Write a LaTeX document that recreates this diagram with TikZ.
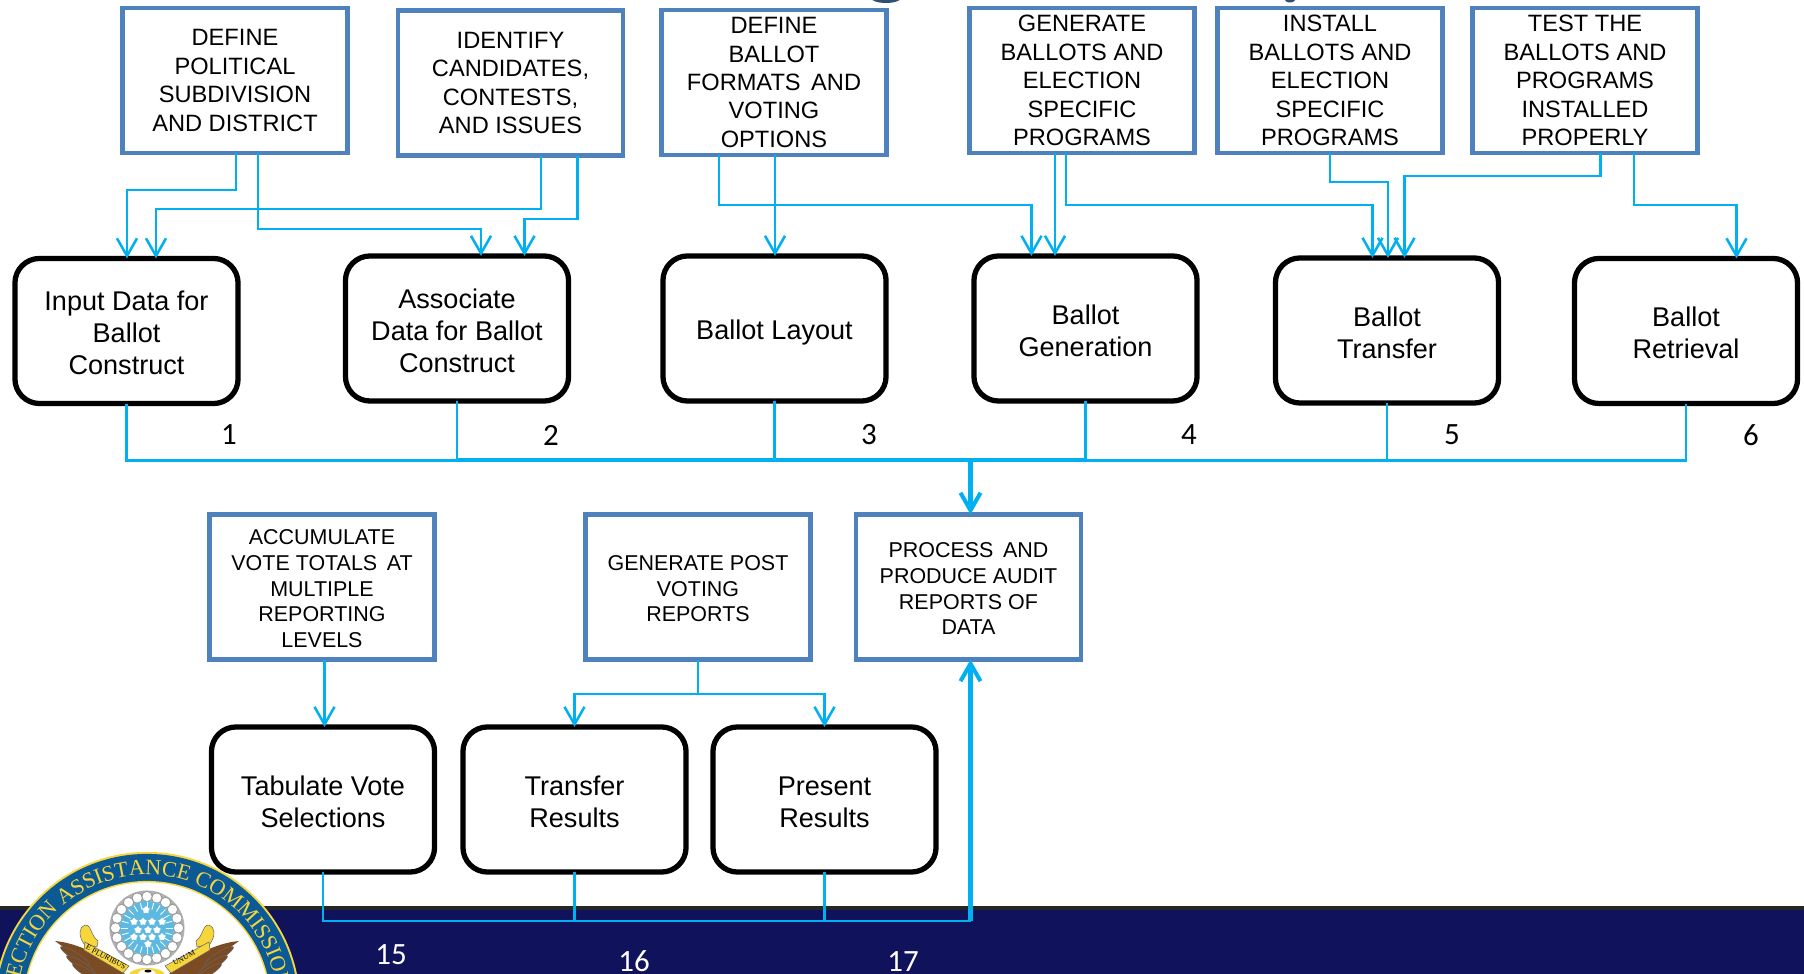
\documentclass[tikz,border=0pt]{standalone}
\usepackage{fontspec}
\usetikzlibrary{arrows.meta, decorations.text, shapes.geometric}
\setmainfont{Liberation Sans}
\newfontfamily\numfont{Carlito}
\newfontfamily\sealfont{Liberation Serif}
\definecolor{boxblue}{HTML}{4F81BD}
\definecolor{linkblue}{HTML}{00B0F0}
\definecolor{bandnavy}{HTML}{10125C}
\definecolor{sealblue}{HTML}{0B5A96}
\definecolor{sealgold}{HTML}{F7D63C}
\definecolor{sealbrown}{HTML}{7B4B24}
\definecolor{sealsky}{HTML}{5DB9E0}
\tikzset{
  taskbox/.style={draw=boxblue, line width=1.35pt, fill=white, minimum width=2.25cm, minimum height=1.45cm, inner sep=0pt, outer sep=0pt, align=center},
  hightask/.style={taskbox, font=\fontsize{6.72}{8.1}\selectfont},
  lowtask/.style={taskbox, font=\fontsize{6.1}{7.3}\selectfont},
  procbox/.style={draw=black, line width=1.5pt, fill=white, rounded corners=7pt, minimum width=2.23cm, minimum height=1.45cm, inner sep=0pt, outer sep=0pt, align=center, font=\fontsize{7.7}{9.1}\selectfont},
  numlabel/.style={font=\fontsize{8.8}{10}\numfont},
  feed/.style={draw=linkblue, line width=0.72pt, -{Straight Barb[length=5pt,width=5.7pt]}},
  busline/.style={draw=linkblue, line width=0.6pt},
  trunk/.style={draw=linkblue, line width=1.15pt, -{Straight Barb[length=5pt,width=5.7pt]}},
  pearl/.style={fill=white, draw=black!40, line width=0.25pt},
  sealstar/.style={star, star points=5, fill=white, inner sep=0pt, minimum size=0.08cm}
}

\begin{document}
\begin{tikzpicture}[x=0.01cm, y=-0.01cm]
  \useasboundingbox (0,0) rectangle (1804,974);
  \begin{scope}
    \clip (0,0) rectangle (1804,974);
    \fill[boxblue!60!black] (886,-3) ellipse [x radius=0.16cm, y radius=0.06cm];
    \fill[boxblue!60!black] (1290,-2) ellipse [x radius=0.06cm, y radius=0.045cm];
    \fill[black!85] (0,906) rectangle (1804,910);
    \fill[bandnavy] (0,910) rectangle (1804,974);
    \fill[sealgold] (147,1005) circle [radius=1.53cm];
    \fill[sealblue] (147,1005) circle [radius=1.51cm];
    \fill[sealgold] (147,1005) circle [radius=1.24cm];
    \fill[white] (147,1005) circle [radius=1.225cm];
    \begin{scope}[shift={(147,1005)}, y=0.01cm]
      \path[decorate, decoration={text along path, text align=center,
        text={|\fontsize{6.26}{7}\sealfont\color{sealgold}|ELECTION ASSISTANCE COMMISSION}}]
        (182:130) arc (182:5:130);
    \end{scope}
    \fill[black!30] (147,928) circle [radius=0.375cm];
    \foreach \a in {0,18,...,342}{
      \fill[pearl] (147,928) ++(\a:0.315cm) circle [radius=0.052cm];
    }
    \fill[sealsky] (147,928) circle [radius=0.27cm];
    \foreach \a in {0,15,...,345}{
      \draw[white, line width=0.25pt] (147,928) ++(\a:0.19cm) -- ++(\a:0.07cm);
    }
    \foreach \n/\x/\y in {1/146/910, 2/134/921.7, 3/143/921.7, 4/152/921.7, 5/162/921.7, 6/138/930, 7/148/930, 8/157/930, 9/134/937, 10/143/937, 11/152/937, 12/162/937, 13/148/944}{
      \node[sealstar] (s\n) at (\x,\y) {};
    }
    \foreach \s in {1,-1}{
      \begin{scope}[shift={(147,0)}, xscale=\s]
        \fill[sealbrown] (-92,941) .. controls (-70,943) and (-45,955) .. (-22,974) -- (-52,974) .. controls (-60,962) and (-80,950) .. cycle;
        \fill[sealbrown, draw=black!60, line width=0.15pt] (-72,956) circle [x radius=0.17cm, y radius=0.035cm, rotate=-32];
        \fill[sealbrown, draw=black!60, line width=0.15pt] (-66,965) circle [x radius=0.17cm, y radius=0.035cm, rotate=-32];
        \fill[sealbrown, draw=black!60, line width=0.15pt] (-60,973) circle [x radius=0.17cm, y radius=0.035cm, rotate=-32];
        \fill[sealgold, draw=black!60, line width=0.15pt] (-62,925) .. controls (-55,925) and (-57,935) .. (-49,941) -- (-50,947) -- (-63,944) .. controls (-69,935) and (-68,927) .. cycle;
        \fill[sealgold, draw=black!60, line width=0.15pt] (-62,942) -- (-18,966) -- (-24,973) -- (-63,950) -- cycle;
      \end{scope}
    }
    \node[rotate=-28, font=\fontsize{2.2}{2.4}\sealfont] (pl) at (106,957) {E PLURIBUS};
    \node[rotate=28, font=\fontsize{2.2}{2.4}\sealfont] (un) at (184,958) {UNUM};
    \fill[sealgold] (147,975) circle [x radius=0.18cm, y radius=0.07cm];
    \fill[white] (147,975) circle [x radius=0.09cm, y radius=0.06cm];
    \fill[black] (148,971) circle [x radius=0.035cm, y radius=0.015cm];
  \end{scope}

  \foreach \n/\x/\y/\txt in {
    1/235/80.5/{DEFINE\\POLITICAL\\SUBDIVISION\\AND DISTRICT},
    2/510.5/83/{IDENTIFY\\CANDIDATES,\\CONTESTS,\\AND ISSUES},
    3/774/82.5/{DEFINE\\BALLOT\\FORMATS\, AND\\VOTING\\OPTIONS},
    4/1082/80.5/{GENERATE\\BALLOTS AND\\ELECTION\\SPECIFIC\\PROGRAMS},
    5/1330/80.5/{INSTALL\\BALLOTS AND\\ELECTION\\SPECIFIC\\PROGRAMS},
    6/1585/80.5/{TEST THE\\BALLOTS AND\\PROGRAMS\\INSTALLED\\PROPERLY}}{
    \node[hightask] (t\n) at (\x,\y) {\txt};
  }
  \foreach \n/\x/\y/\txt in {
    1/126.5/331/{Input Data for\\Ballot\\Construct},
    2/457/328.5/{Associate\\Data for Ballot\\Construct},
    3/774.5/328.5/{\rule{0pt}{8pt}Ballot Layout},
    4/1085.5/328.5/{Ballot\\Generation},
    5/1387/330.5/{Ballot\\Transfer},
    6/1686/331/{Ballot\\Retrieval}}{
    \node[procbox] (c\n) at (\x,\y) {\rule{0pt}{6.8pt}\txt};
  }
  \foreach \n/\x/\txt in {
    1/322/{ACCUMULATE\\VOTE TOTALS\, AT\\MULTIPLE\\REPORTING\\LEVELS},
    2/698/{GENERATE POST\\VOTING\\REPORTS},
    3/968.5/{PROCESS\, AND\\PRODUCE AUDIT\\REPORTS OF\\DATA}}{
    \node[lowtask] (p\n) at (\x,587) {\rule{0pt}{5.3pt}\txt};
  }
  \foreach \n/\x/\txt in {
    1/323/{Tabulate Vote\\Selections},
    2/574.5/{Transfer\\Results},
    3/824.5/{Present\\Results}}{
    \node[procbox] (q\n) at (\x,799.5) {\rule{0pt}{6.8pt}\txt};
  }

  \draw[feed] (t1.south -| 236,0) |- (127,190) -- (c1.north -| 127,0);
  \draw[feed] (t1.south -| 258,0) |- (481,229) -- (c2.north -| 481,0);
  \draw[feed] (t2.south -| 541,0) |- (156,209) -- (c1.north -| 156,0);
  \draw[feed] (t2.south -| 577.5,0) |- (524.5,219) -- (c2.north -| 524.5,0);
  \draw[feed] (t3.south -| 719,0) |- (1031.5,205) -- (c4.north -| 1031.5,0);
  \draw[feed] (t3.south -| 775,0) -- (c3.north -| 775,0);
  \draw[feed] (t4.south -| 1055,0) -- (c4.north -| 1055,0);
  \draw[feed] (t4.south -| 1066,0) |- (1372.5,205) -- (c5.north -| 1372.5,0);
  \draw[feed] (t5.south) |- (1388,182) -- (c5.north -| 1388,0);
  \draw[feed] (t6.south -| 1600.5,0) |- (1404.5,176) -- (c5.north -| 1404.5,0);
  \draw[feed] (t6.south -| 1634,0) |- (1736.5,205) -- (c6.north -| 1736.5,0);

  \coordinate (j) at (970.5,460.5);
  \coordinate (k) at (970.5,459);
  \foreach \n/\e in {1/j,2/k,3/k,4/k,5/j,6/j}{
    \draw[busline] (c\n.south) |- (\e);
  }
  \draw[trunk] (k) -- (p3.north -| k);

  \draw[feed] (p1.south -| 324.5,0) -- (q1.north -| 324.5,0);
  \coordinate (g) at (698,694);
  \draw[busline, line width=0.72pt] (p2.south) -- (g);
  \draw[feed] (g) -| (q2.north);
  \draw[feed] (g) -| (q3.north);

  \coordinate (m) at (970.5,921);
  \foreach \n in {1,2,3}{
    \draw[busline, line width=0.72pt] (q\n.south) |- (m);
  }
  \draw[trunk] (m) -- (p3.south -| m);

  \foreach \n/\x/\y/\c in {1/229/435/black, 2/551/435/black, 3/869/435/black, 4/1189/435/black, 5/1452/435/black, 6/1751/435/black, 15/391/955/white, 16/634/961.5/white, 17/903/961.5/white}{
    \node[numlabel, text=\c] (n\n) at (\x,\y) {\n};
  }
\end{tikzpicture}
\end{document}
